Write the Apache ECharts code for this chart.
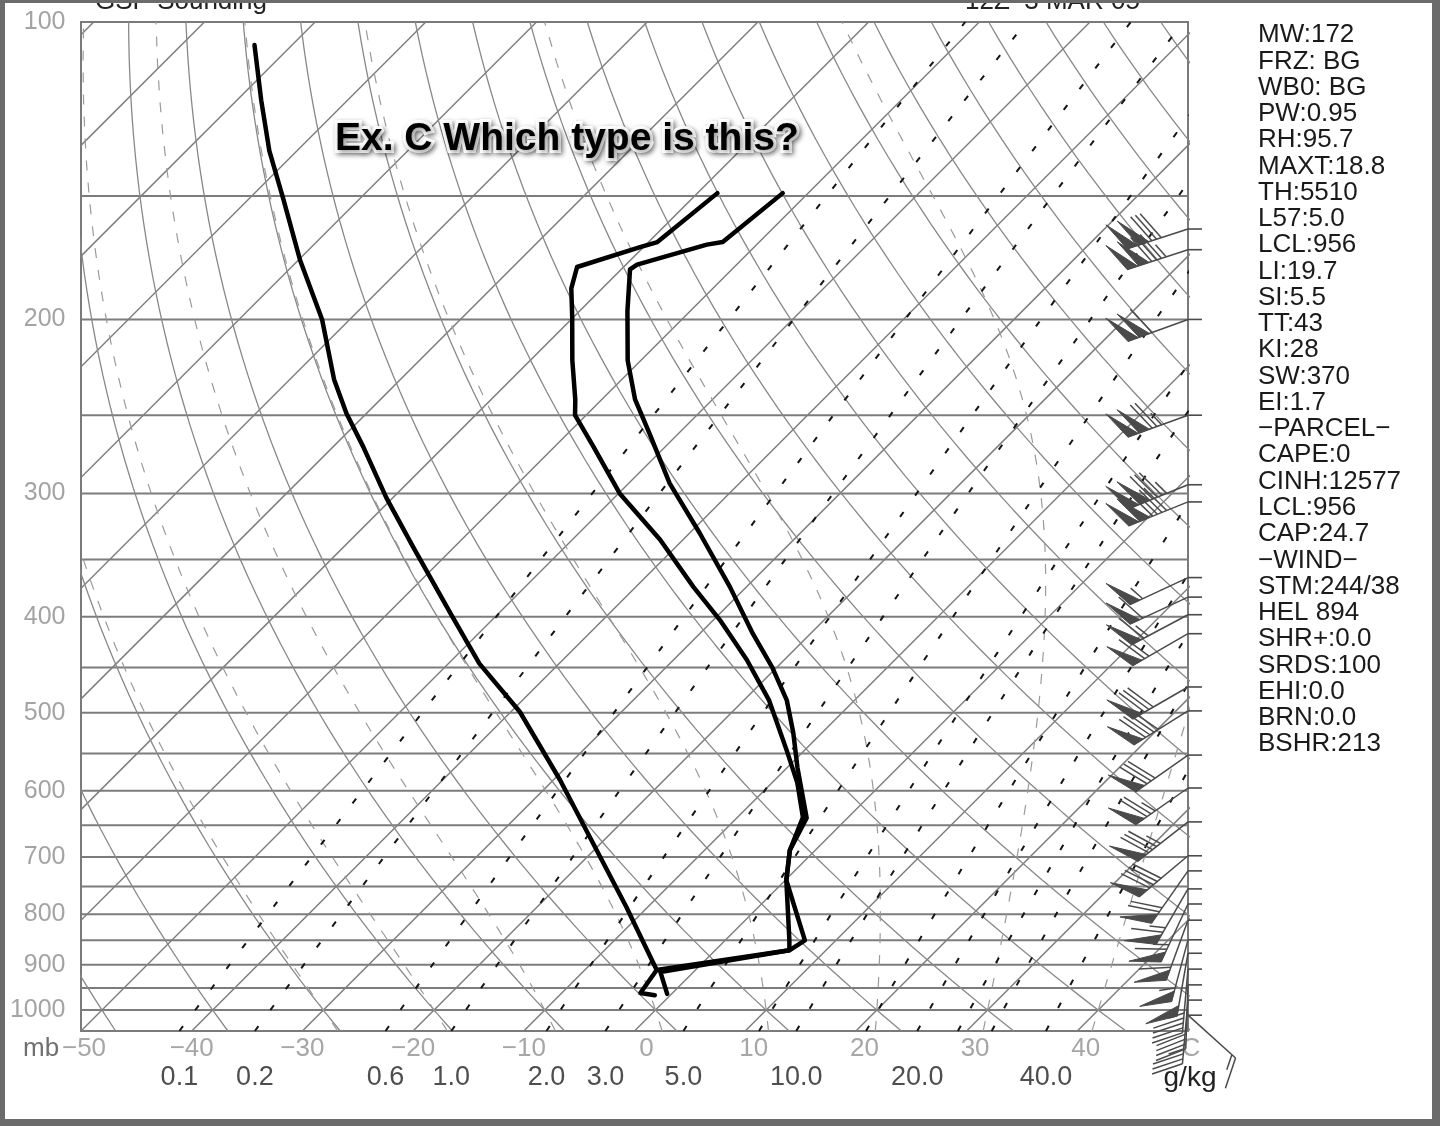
<!DOCTYPE html>
<html><head><meta charset="utf-8">
<script src="https://cdn.jsdelivr.net/npm/echarts@6/dist/echarts.min.js"></script>
<style>html,body{margin:0;padding:0;background:#fff}#c{width:1440px;height:1126px}</style>
</head><body><div id="c"></div>
<script>
// ---------------- data ----------------
// Temperature profile (right thick line): pressure (hPa) and temperature (C)
const tempP = [963, 915, 870, 850, 739, 689, 639, 568, 524, 486, 450, 416, 373, 329, 293, 261, 241, 220, 196, 178, 176, 168, 167, 149];
const tempT = [-0.4, -3.0, 6.7, 7.2, 0.1, -2.3, -3.7, -9.1, -12.6, -16.1, -20.4, -25.2, -31.5, -39.1, -46.3, -52.6, -57.0, -61.2, -65.7, -69.2, -69.0, -64.5, -63.3, -62.3];
// Dewpoint profile (second thick line)
const dewP = [966, 961, 911, 870, 850, 739, 689, 638, 589, 546, 486, 442, 403, 373, 334, 300, 269, 250, 241, 220, 199, 186, 177, 169, 167, 149];
const dewT = [-1.4, -2.9, -3.5, 6.7, 5.8, 0.1, -2.3, -4.1, -7.7, -11.6, -17.7, -23.4, -29.4, -34.8, -42.1, -49.9, -56.5, -61.0, -62.4, -66.2, -70.1, -72.8, -74.2, -70.3, -69.2, -68.2];
// Parcel path (left thick line)
const parcelP = [105.5, 120, 135, 151, 174, 200, 230, 249, 269, 303, 340, 399, 446, 499, 585, 678, 787, 911];
const parcelT = [-123.4, -117.8, -112.5, -106.9, -99.9, -92.5, -86.0, -81.8, -77.3, -70.6, -63.7, -54.0, -47.2, -39.2, -29.4, -20.7, -11.9, -3.5];
// Wind barbs: pressure, direction (deg), speed (kt)
const windP = [162, 170, 200, 250, 294, 306, 365, 382, 398, 416, 471, 498, 552, 596, 645, 698, 723, 754, 781, 811, 849, 876, 909, 943, 977, 1012];
const windDir = [252, 252, 250, 250, 248, 248, 245, 245, 242, 240, 240, 238, 235, 235, 232, 230, 215, 210, 205, 200, 195, 190, 185, 182, 185, 132];
const windSpd = [130, 135, 110, 125, 135, 140, 55, 60, 65, 70, 80, 90, 80, 75, 85, 90, 70, 65, 65, 60, 55, 50, 45, 40, 35, 15];
// Axis / reference values
const pressureLabels = [100, 200, 300, 400, 500, 600, 700, 800, 900, 1000];
const isobars = [150, 200, 250, 300, 350, 400, 450, 500, 550, 600, 650, 700, 750, 800, 850, 900, 950, 1000];
const mixLines = [0.1, 0.2, 0.6, 1, 2, 3, 5, 8, 10, 15, 20, 25, 30, 40];
const mixLabels = [0.1, 0.2, 0.6, 1.0, 2.0, 3.0, 5.0, 10.0, 20.0, 40.0];
const moistThetaW = [-30, -20, -10, 0, 10, 20, 30, 40];
const dryTheta = [-50, -40, -30, -20, -10, 0, 10, 20, 30, 40, 50, 60, 70, 80, 90, 100, 110, 120, 130, 140, 150, 160, 170, 180];
const isotherms = [-140, -130, -120, -110, -100, -90, -80, -70, -60, -50, -40, -30, -20, -10, 0, 10, 20, 30, 40, 50];
const statLines = ['MW:172', 'FRZ: BG', 'WB0: BG', 'PW:0.95', 'RH:95.7', 'MAXT:18.8', 'TH:5510', 'L57:5.0', 'LCL:956', 'LI:19.7', 'SI:5.5', 'TT:43', 'KI:28', 'SW:370', 'EI:1.7', '\u2212PARCEL\u2212', 'CAPE:0', 'CINH:12577', 'LCL:956', 'CAP:24.7', '\u2212WIND\u2212', 'STM:244/38', 'HEL 894', 'SHR+:0.0', 'SRDS:100', 'EHI:0.0', 'BRN:0.0', 'BSHR:213'];
const titleLeft = 'GSP Sounding';
const titleRight = '12Z  3 MAR 05';
const annotation = 'Ex. C Which type is this?';

// ---------------- skew-T helpers ----------------
const PBOT = 1050, PTOP = 100;
const SKEW = (1009 / Math.log10(PBOT / PTOP)) / (1107 / 100); // 45 degree isotherms
const sx = (T, p) => T + SKEW * Math.log10(PBOT / p);
const FONT = '"Liberation Sans", Arial, sans-serif';

function logPs(n) { const a = []; for (let i = 0; i <= n; i++) a.push(PBOT * Math.pow(PTOP / PBOT, i / n)); return a; }
function mixT(w, p) { const e = w * p / (622 + w); const l = Math.log(e / 6.112); return 243.5 * l / (17.67 - l); }
function dTdp(T, p) {
  const Rd = 287.04, Cp = 1005.7, L = 2.501e6, eps = 0.622;
  const es = 6.112 * Math.exp(17.67 * (T - 273.15) / (T - 29.65));
  const r = eps * es / (p - es);
  return (Rd * T + L * r) / (p * (Cp + L * L * r * eps / (Rd * T * T)));
}
function moistCurve(tw) {
  function integrate(p0, p1, h) {
    let T = tw + 273.15, p = p0, out = [], k = 0;
    while ((h < 0 && p > p1 + 1e-9) || (h > 0 && p < p1 - 1e-9)) {
      const s = h < 0 ? Math.max(h, p1 - p) : Math.min(h, p1 - p);
      const k1 = dTdp(T, p), k2 = dTdp(T + s / 2 * k1, p + s / 2), k3 = dTdp(T + s / 2 * k2, p + s / 2), k4 = dTdp(T + s * k3, p + s);
      T += s / 6 * (k1 + 2 * k2 + 2 * k3 + k4); p += s; k++;
      if (k % 4 === 0 || Math.abs(p - p1) < 1e-6) out.push([sx(T - 273.15, p), p]);
    }
    return out;
  }
  const up = integrate(1000, PTOP, -2.5);
  const down = integrate(1000, PBOT, 2.5).reverse();
  return down.concat([[sx(tw, 1000), 1000]], up);
}

const series = [];
function bg(data, lineStyle, z) {
  series.push({ type: 'line', data, showSymbol: false, symbol: 'none', silent: true, clip: true, animation: false, lineStyle, z: z || 1 });
}
// isobars
isobars.forEach(p => bg([[-50, p], [50, p]], { color: '#7c7c7c', width: 2 }, 1));
// isotherms
isotherms.forEach(T => bg([[sx(T, PBOT), PBOT], [sx(T, PTOP), PTOP]], { color: '#7e7e7e', width: 1.5 }, 1));
// dry adiabats
const ps60 = logPs(60);
dryTheta.forEach(th => bg(ps60.map(p => { const T = (th + 273.15) * Math.pow(p / 1000, 0.2857) - 273.15; return [sx(T, p), p]; }), { color: '#888', width: 1.3 }, 1));
// moist adiabats
moistThetaW.forEach(tw => bg(moistCurve(tw), { color: '#9a9a9a', width: 1.2, type: [10, 12] }, 1));
// mixing-ratio lines
const ps40 = logPs(40);
mixLines.forEach(w => bg(ps40.map(p => [sx(mixT(w, p), p), p]), { color: '#151515', width: 2, type: [6, 20] }, 2));

// profiles
function prof(P, T) { return P.map((p, i) => [sx(T[i], p), p]); }
[[tempP, tempT], [dewP, dewT], [parcelP, parcelT]].forEach(([P, T]) => {
  series.push({ type: 'line', data: prof(P, T), showSymbol: false, symbol: 'none', silent: true, clip: true, animation: false, z: 5,
    lineStyle: { color: '#000', width: 4.5, join: 'round', cap: 'round' } });
});

// pressure labels
series.push({ type: 'scatter', data: pressureLabels.map(p => [-50, p]), symbolSize: 1, itemStyle: { color: 'rgba(0,0,0,0)' }, clip: false, silent: true, z: 6,
  label: { show: true, position: 'left', distance: 15, formatter: d => String(d.value[1]), color: '#8c8c8c', fontSize: 25, fontFamily: FONT } });
// mixing-ratio labels
series.push({ type: 'scatter', data: mixLabels.map(w => [sx(mixT(w, PBOT), PBOT), PBOT, w]), symbolSize: 1, itemStyle: { color: 'rgba(0,0,0,0)' }, clip: false, silent: true, z: 6,
  label: { show: true, position: 'inside', offset: [0, 47], formatter: d => d.value[2].toFixed(1), color: '#222', fontSize: 27, fontFamily: FONT } });

// wind barbs
series.push({
  type: 'custom', clip: false, silent: true, z: 7,
  data: windP.map((p, i) => [50, p, windDir[i], windSpd[i]]),
  renderItem: function (params, api) {
    const o = api.coord([api.value(0), api.value(1)]);
    const dir = api.value(2) * Math.PI / 180, spd = api.value(3);
    const ux = Math.sin(dir), uy = -Math.cos(dir);
    const bx = Math.cos(dir), by = Math.sin(dir);
    let fx = bx * 0.92 + ux * 0.4, fy = by * 0.92 + uy * 0.4;
    const fl = Math.hypot(fx, fy); fx /= fl; fy /= fl;
    const L = 64, F = 32, col = '#4a4a4a';
    const pt = d => [o[0] + ux * d, o[1] + uy * d];
    const ch = [];
    ch.push({ type: 'line', shape: { x1: o[0], y1: o[1], x2: o[0] + 14, y2: o[1] }, style: { stroke: col, lineWidth: 1.6 } });
    const e = pt(L);
    ch.push({ type: 'line', shape: { x1: o[0], y1: o[1], x2: e[0], y2: e[1] }, style: { stroke: col, lineWidth: 1.5 } });
    let d = L;
    const n50 = Math.floor(spd / 50); let rem = spd - n50 * 50;
    const n10 = Math.floor(rem / 10); const n5 = (rem - n10 * 10) >= 5 ? 1 : 0;
    for (let i = 0; i < n50; i++) {
      const a = pt(d), c = pt(d - 11);
      ch.push({ type: 'polygon', shape: { points: [a, [a[0] + fx * F, a[1] + fy * F], c] }, style: { fill: col, stroke: col, lineWidth: 1 } });
      d -= 12;
    }
    if (n50 > 0) d -= 2;
    for (let i = 0; i < n10; i++) {
      const a = pt(d);
      ch.push({ type: 'line', shape: { x1: a[0], y1: a[1], x2: a[0] + fx * F, y2: a[1] + fy * F }, style: { stroke: col, lineWidth: 1.5 } });
      d -= 5;
    }
    if (n5) {
      if (d === L) d -= 5;
      const a = pt(d);
      ch.push({ type: 'line', shape: { x1: a[0], y1: a[1], x2: a[0] + fx * F / 2, y2: a[1] + fy * F / 2 }, style: { stroke: col, lineWidth: 1.5 } });
    }
    return { type: 'group', children: ch };
  }
});

const tick = { fontSize: 26, lineHeight: 26, color: '#a6a6a6', fontFamily: FONT };
const option = {
  animation: false,
  backgroundColor: '#fff',
  grid: { left: 81, top: 22, width: 1107, height: 1009, show: true, borderColor: '#7a7a7a', borderWidth: 2, backgroundColor: 'transparent', containLabel: false, outerBoundsMode: 'none' },
  xAxis: { type: 'value', min: -50, max: 50, interval: 10, axisLine: { show: false }, axisTick: { show: false }, splitLine: { show: false },
    axisLabel: { show: true, margin: 5, showMinLabel: true, showMaxLabel: true, color: '#a6a6a6', fontSize: 26, fontFamily: FONT,
      formatter: v => v === -50 ? '{s|\u221250}' : v === 50 ? '{s|C}' : v === 0 ? '{z|0}' : v > 0 ? '{p|' + v + '}' : '{n|\u2212' + (-v) + '}',
      rich: { n: tick, p: Object.assign({ padding: [0, 0, 0, 17] }, tick), z: Object.assign({ padding: [0, 0, 0, 24] }, tick), s: Object.assign({ padding: [0, 0, 0, 6] }, tick) } } },
  yAxis: { type: 'log', logBase: 10, min: PTOP, max: PBOT, inverse: true, axisLine: { show: false }, axisTick: { show: false }, splitLine: { show: false }, axisLabel: { show: false } },
  series,
  graphic: [
    { type: 'text', x: 95, y: 15, z: 50, style: { text: titleLeft, font: '26px ' + FONT, fill: '#222', textVerticalAlign: 'bottom', verticalAlign: 'bottom' } },
    { type: 'text', x: 965, y: 15, z: 50, style: { text: titleRight, font: '26px ' + FONT, fill: '#222', textVerticalAlign: 'bottom', verticalAlign: 'bottom' } },
    { type: 'text', x: 1258, y: 22, z: 50, style: { text: statLines.join('\n'), font: '26px ' + FONT, fill: '#1a1a1a', lineHeight: 26.26, textVerticalAlign: 'top', verticalAlign: 'top' } },
    { type: 'rect', z: 51, shape: { x: 1420, y: 560, width: 14, height: 50 }, style: { fill: '#fff' } },
    { type: 'text', x: 23, y: 1049, z: 50, style: { text: 'mb', font: '26px ' + FONT, fill: '#707070', textVerticalAlign: 'middle', verticalAlign: 'middle' } },
    { type: 'text', x: 1190, y: 1078, z: 50, style: { text: 'g/kg', font: '28px ' + FONT, fill: '#222', textAlign: 'center', align: 'center', textVerticalAlign: 'middle', verticalAlign: 'middle' } },
    { type: 'text', x: 335, y: 139, z: 60, style: { text: annotation, font: 'bold 39px ' + FONT, fill: '#000', stroke: '#fff', lineWidth: 6,
      textShadowColor: 'rgba(0,0,0,0.45)', textShadowBlur: 5, textShadowOffsetX: 2, textShadowOffsetY: 2, textVerticalAlign: 'middle', verticalAlign: 'middle' } },
    { type: 'rect', z: 90, shape: { x: 0, y: 0, width: 5, height: 1126 }, style: { fill: '#6b6b6b' } },
    { type: 'rect', z: 90, shape: { x: 0, y: 0, width: 1440, height: 3 }, style: { fill: '#6b6b6b' } },
    { type: 'rect', z: 90, shape: { x: 1432, y: 0, width: 8, height: 1126 }, style: { fill: '#6b6b6b' } },
    { type: 'rect', z: 90, shape: { x: 0, y: 1119, width: 1440, height: 7 }, style: { fill: '#6b6b6b' } }
  ]
};
const chart = echarts.init(document.getElementById('c'), null, { renderer: 'canvas' });
chart.setOption(option);
</script></body></html>
